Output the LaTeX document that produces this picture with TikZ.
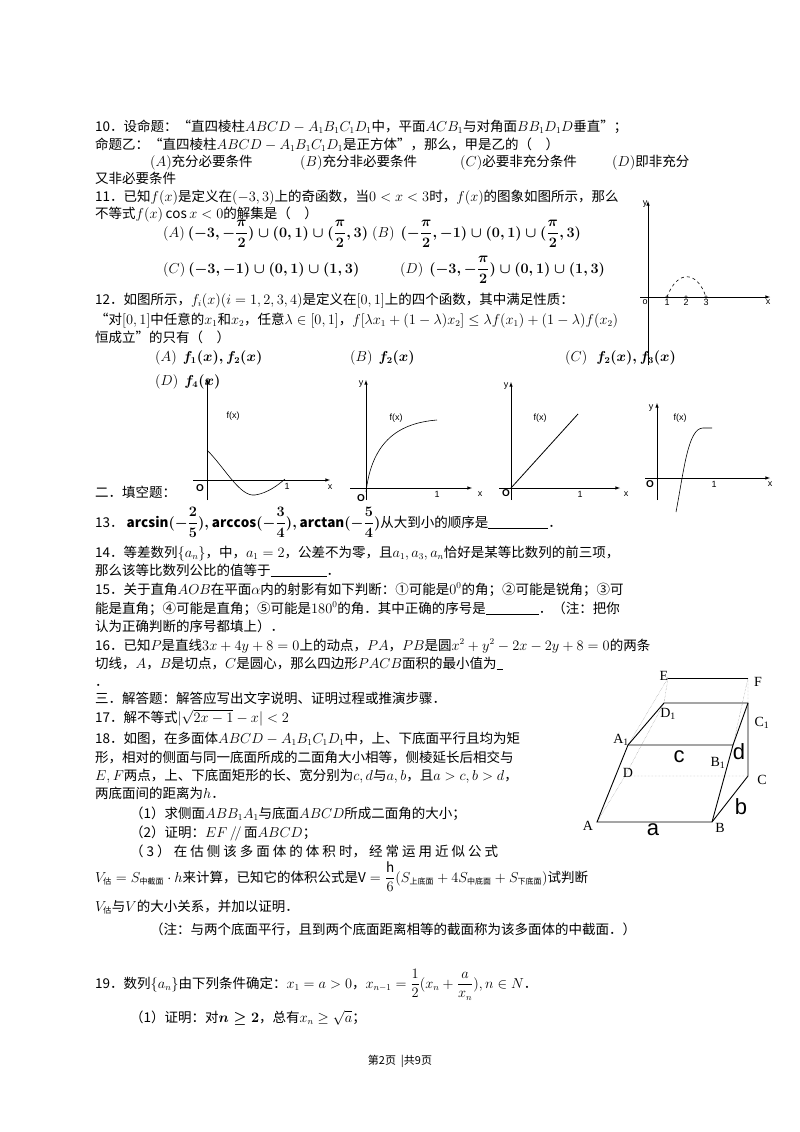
\documentclass[tikz,border=0pt]{standalone}
\usepackage{amsmath,amssymb}
\usepackage{fontspec}
\setmainfont{Noto Sans CJK SC}
\newfontfamily\lsans{Liberation Sans}
\newfontfamily\lserif{Liberation Serif}
\begin{document}
\begin{tikzpicture}[x=1pt,y=-1pt,
  T/.style={anchor=base west,inner sep=0pt,font=\fontsize{13.5}{15}\selectfont},
  ax/.style={draw,line width=0.6pt,-latex},
  lab/.style={inner sep=0pt,font=\lsans\fontsize{9}{10}\selectfont},
  pl/.style={inner sep=0pt,font=\lserif\fontsize{14}{15}\selectfont},
  big/.style={inner sep=0pt,font=\lsans\fontsize{22}{24}\selectfont},
  edge/.style={line width=0.9pt},
  hid/.style={densely dotted,line width=0.4pt,gray}]
\useasboundingbox (0,0) rectangle (800,1132);
\fill[white] (0,0) rectangle (800,1132);
% Q10
\node[T] (l1) at (95,131) {10．设命题：“直四棱柱$ABCD-A_1B_1C_1D_1$中，平面$ACB_1$与对角面$BB_1D_1D$垂直”；};
\node[T] (l2) at (95,149) {命题乙：“直四棱柱$ABCD-A_1B_1C_1D_1$是正方体”，那么，甲是乙的（\quad ）};
\node[T] (l3a) at (150,166) {$(A)$充分必要条件};
\node[T] (l3b) at (300,166) {$(B)$充分非必要条件};
\node[T] (l3c) at (460,166) {$(C)$必要非充分条件};
\node[T] (l3d) at (612,166) {$(D)$即非充分};
\node[T] (l4) at (95,183) {又非必要条件};
% Q11
\node[T] (l5) at (95,201) {11．已知$f(x)$是定义在$(-3,3)$上的奇函数，当$0<x<3$时，$f(x)$的图象如图所示，那么};
\node[T] (l6) at (95,218) {不等式$f(x)\cos x<0$的解集是（\quad ）};
\node[T] (o11a) at (163,237) {$(A)\ \boldsymbol{(-3,-\dfrac{\pi}{2})\cup(0,1)\cup(\dfrac{\pi}{2},3)}$};
\node[T] (o11b) at (372,237) {$(B)\ \ \boldsymbol{(-\dfrac{\pi}{2},-1)\cup(0,1)\cup(\dfrac{\pi}{2},3)}$};
\node[T] (o11c) at (163,273) {$(C)\ \boldsymbol{(-3,-1)\cup(0,1)\cup(1,3)}$};
\node[T] (o11d) at (400,273) {$(D)\ \ \boldsymbol{(-3,-\dfrac{\pi}{2})\cup(0,1)\cup(1,3)}$};
% Q11 graph
\draw[ax] (648,365) -- (648,201);
\draw[ax] (640,297) -- (770,297);
\draw[dashed,line width=0.6pt] (667,297) .. controls (677,270) and (697,270) .. (706,297);
\foreach \x/\t in {667/1,686/2,706/3}{\draw (\x,297) circle (1.3pt); \node[lab] at (\x,302) {\t};}
\node[lab] at (645,302) {o};
\node[lab] at (768,302) {x};
\node[lab] at (645,204) {y};
% Q12
\node[T] (l9) at (95,304) {12．如图所示，$f_i(x)(i=1,2,3,4)$是定义在$[0,1]$上的四个函数，其中满足性质：};
\node[T] (l10) at (95,324) {“对$[0,1]$中任意的$x_1$和$x_2$，任意$\lambda\in[0,1]$，$f[\lambda x_1+(1-\lambda)x_2]\le\lambda f(x_1)+(1-\lambda)f(x_2)$};
\node[T] (l11) at (95,342) {恒成立”的只有（\quad ）};
\node[T] (o12a) at (155,361) {$(A)\ \ \boldsymbol{f_1(x),f_2(x)}$};
\node[T] (o12b) at (350,361) {$(B)\ \ \boldsymbol{f_2(x)}$};
\node[T] (o12c) at (565,361) {$(C)\ \ \ \boldsymbol{f_2(x),f_3(x)}$};
\node[T] (o12d) at (155,385) {$(D)\ \ \boldsymbol{f_4(x)}$};
% graph 1
\draw[ax] (207,500) -- (207,378);
\draw[ax] (193,480) -- (330,480);
\draw[line width=0.6pt] (207,450) .. controls (225,468) and (240,497) .. (255,495) .. controls (268,493) and (278,485) .. (285,479);
\node[lab] at (233,416) {f(x)};
\node[lab,font=\lsans\bfseries\fontsize{10}{11}\selectfont] at (200,488) {O};
\node[lab] at (287,486) {1};
\node[lab] at (330,487) {x};
% graph 2
\draw[ax] (366,500) -- (366,380);
\draw[ax] (350,488) -- (472,488);
\draw[line width=0.6pt] (366,492) .. controls (372,440) and (400,423) .. (437,420);
\node[lab] at (396,418) {f(x)};
\node[lab] at (361,384) {y};
\node[lab,font=\lsans\bfseries\fontsize{10}{11}\selectfont] at (361,498) {O};
\node[lab] at (437,494) {1};
\node[lab] at (480,494) {x};
% graph 3
\draw[ax] (511,500) -- (511,382);
\draw[ax] (499,488) -- (620,488);
\draw[line width=0.8pt] (511,488) -- (578,414);
\node[lab] at (540,418) {f(x)};
\node[lab] at (506,386) {y};
\node[lab,font=\lsans\bfseries\fontsize{10}{11}\selectfont] at (506,493) {O};
\node[lab] at (580,494) {1};
\node[lab] at (626,494) {x};
% graph 4
\draw[ax] (657,500) -- (657,403);
\draw[ax] (645,478) -- (770,478);
\draw[line width=0.6pt] (676,512) .. controls (684,470) and (688,428) .. (703,428) -- (712,428);
\node[lab] at (680,418) {f(x)};
\node[lab] at (651,408) {y};
\node[lab,font=\lsans\bfseries\fontsize{10}{11}\selectfont] at (650,484) {O};
\node[lab] at (714,484) {1};
\node[lab] at (770,484) {x};
% Section 2
\node[T] (s2) at (95,497) {二．填空题：};
\node[T] (l13) at (95,527) {13．\ $\boldsymbol{\mathrm{arcsin}(-\dfrac{2}{5}),\mathrm{arccos}(-\dfrac{3}{4}),\mathrm{arctan}(-\dfrac{5}{4})}$从大到小的顺序是\rule[-1.5pt]{60pt}{0.8pt}．};
\node[T] (l14) at (95,557) {14．等差数列$\{a_n\}$，中，$a_1=2$，公差不为零，且$a_1,a_3,a_n$恰好是某等比数列的前三项，};
\node[T] (l14b) at (95,575) {那么该等比数列公比的值等于\rule[-1.5pt]{56pt}{0.8pt}．};
\node[T] (l15) at (95,594) {15．关于直角$AOB$在平面$\alpha$内的射影有如下判断：①可能是$0^0$的角；②可能是锐角；③可};
\node[T] (l15b) at (95,613) {能是直角；④可能是直角；⑤可能是$180^0$的角．其中正确的序号是\rule[-1.5pt]{53pt}{0.8pt}．（注：把你};
\node[T] (l15c) at (95,631) {认为正确判断的序号都填上）．};
\node[T] (l16) at (95,650) {16．已知$P$是直线$3x+4y+8=0$上的动点，$PA$，$PB$是圆$x^2+y^2-2x-2y+8=0$的两条};
\node[T] (l16b) at (95,668) {切线，$A$，$B$是切点，$C$是圆心，那么四边形$PACB$面积的最小值为\rule[-1.5pt]{6pt}{0.8pt}};
\node[T] (l16c) at (95,686) {．};
% Section 3
\node[T] (s3) at (95,703) {三．解答题：解答应写出文字说明、证明过程或推演步骤．};
\node[T] (l17) at (95,722) {17．解不等式$\lvert\sqrt{2x-1}-x\rvert<2$};
\node[T] (l18) at (95,743) {18．如图，在多面体$ABCD-A_1B_1C_1D_1$中，上、下底面平行且均为矩};
\node[T] (l18b) at (95,762) {形，相对的侧面与同一底面所成的二面角大小相等，侧棱延长后相交与};
\node[T] (l18c) at (95,780) {$E,F$两点，上、下底面矩形的长、宽分别为$c,d$与$a,b$，且$a>c,b>d$，};
\node[T] (l18d) at (95,798) {两底面间的距离为$h$．};
\node[T] (l18e) at (130,818) {（1）求侧面$ABB_1A_1$与底面$ABCD$所成二面角的大小；};
\node[T] (l18f) at (130,837) {（2）证明：$EF\,/\!/\,$面$ABCD$；};
\node[T] (l18g) at (130,856) {（\ 3\ ）\ 在\ 估\ 侧\ 该\ 多\ 面\ 体\ 的\ 体\ 积\ 时，\ 经\ 常\ 运\ 用\ 近\ 似\ 公\ 式};
\node[T] (l18h) at (95,882) {$V_{\text{\fontsize{8}{8}\selectfont 估}}=S_{\text{\fontsize{8}{8}\selectfont 中截面}}\cdot h$来计算，已知它的体积公式是$\mathrm{V}=\dfrac{\mathrm{h}}{6}(S_{\text{\fontsize{8}{8}\selectfont 上底面}}+4S_{\text{\fontsize{8}{8}\selectfont 中底面}}+S_{\text{\fontsize{8}{8}\selectfont 下底面}})$试判断};
\node[T] (l18i) at (95,911) {$V_{\text{\fontsize{8}{8}\selectfont 估}}$与$V$的大小关系，并加以证明．};
\node[T] (l18j) at (150,934) {（注：与两个底面平行，且到两个底面距离相等的截面称为该多面体的中截面．）};
% Q19
\node[T] (l19) at (95,988) {19．数列$\{a_n\}$由下列条件确定：$x_1=a>0$，$x_{n-1}=\dfrac{1}{2}(x_n+\dfrac{a}{x_n}),n\in N$．};
\node[T] (l19a) at (130,1022) {（1）证明：对$\boldsymbol{n\ge 2}$，总有$x_n\ge\sqrt{a}$；};
\node[T,anchor=base,font=\fontsize{11}{12}\selectfont] (foot) at (400,1064) {第2页\ \ |共9页};
% polyhedron
\coordinate (A) at (597,822); \coordinate (B) at (712,822);
\coordinate (C) at (748,776); \coordinate (D) at (625,776);
\coordinate (A1) at (628,745); \coordinate (B1) at (733,745);
\coordinate (C1) at (748,703); \coordinate (D1) at (664,703);
\coordinate (E) at (668,678); \coordinate (F) at (748,678);
\draw[hid] (A) -- (D) -- (C); \draw[hid] (D) -- (D1);
\draw[hid] (A1) -- (E) -- (D1); \draw[hid] (C1) -- (F) -- (B1);
\draw[edge] (E) -- (F);
\draw[edge] (A) -- (B) -- (C) -- (C1) -- (D1) -- (A1) -- cycle;
\draw[edge] (A1) -- (B1) -- (C1); \draw[edge] (B) -- (B1);
\node[pl] at (664,676) {E};
\node[pl] at (758,682) {F};
\node[pl] at (621,740) {A$_{\text{1}}$};
\node[pl] at (668,714) {D$_{\text{1}}$};
\node[pl] at (762,723) {C$_{\text{1}}$};
\node[pl] at (718,763) {B$_{\text{1}}$};
\node[pl] at (628,773) {D};
\node[pl] at (762,780) {C};
\node[pl] at (588,826) {A};
\node[pl] at (720,828) {B};
\node[big] at (679,757) {c};
\node[big] at (739,752) {d};
\node[big] at (653,830) {a};
\node[big] at (741,807) {b};
\end{tikzpicture}
\end{document}
